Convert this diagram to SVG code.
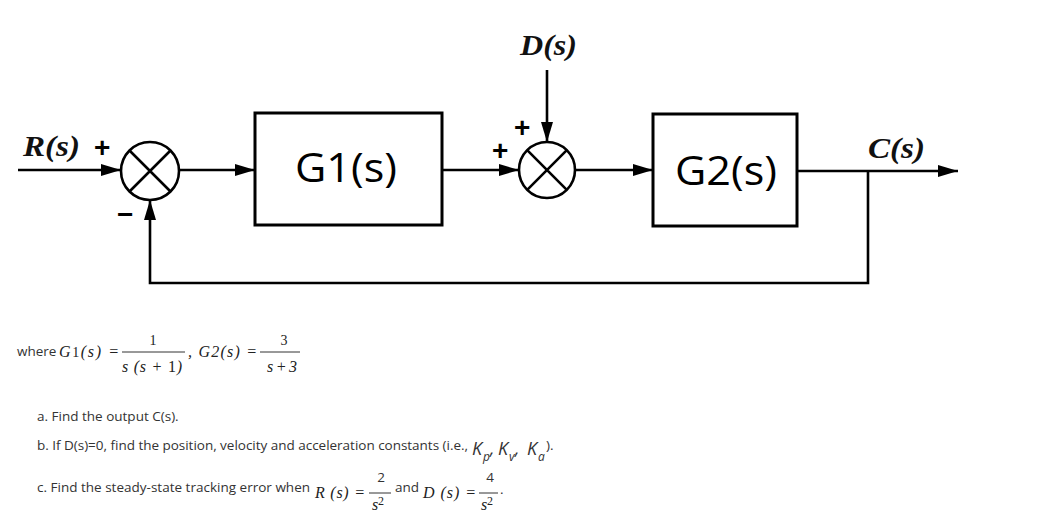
<svg xmlns="http://www.w3.org/2000/svg" width="1060" height="522" viewBox="0 0 1060 522">
<defs>
<style>
.ln{fill:none;stroke:#000;stroke-width:2.6}
.bx{fill:#fff;stroke:#000;stroke-width:3}
.sj{fill:#fff;stroke:#000;stroke-width:2.6}
.blk{font-family:"Open Sans","DejaVu Sans",sans-serif;font-size:40px;fill:#000}
.sig{font-family:"Liberation Serif","DejaVu Serif",serif;font-style:italic;font-weight:bold;font-size:30px;fill:#111}
.sgn{font-family:"Liberation Sans","DejaVu Sans",sans-serif;font-weight:bold;font-size:28px;fill:#000}
.tx{font-family:"Open Sans","DejaVu Sans",sans-serif;font-size:13.5px;fill:#333}
.m{font-family:"Liberation Serif","DejaVu Serif",serif;font-style:italic;font-size:16px;fill:#222}
.mn{font-family:"Liberation Serif","DejaVu Serif",serif;font-size:14px;fill:#222}
.k{font-family:"Open Sans","DejaVu Sans",sans-serif;font-style:italic;font-size:18px;fill:#333}
.ks{font-family:"Open Sans","DejaVu Sans",sans-serif;font-style:italic;font-size:12px;fill:#333}
</style>
<marker id="ah" viewBox="0 0 20 12" refX="20" refY="6" markerWidth="20" markerHeight="12" markerUnits="userSpaceOnUse" orient="auto">
<path d="M0,0 L20,6 L0,12 Z" fill="#000"/>
</marker>
</defs>

<g id="connectors">
<path class="ln" d="M18,170 L121,170" marker-end="url(#ah)"/>
<path class="ln" d="M179,170 L255,170" marker-end="url(#ah)"/>
<path class="ln" d="M442,170 L519,170" marker-end="url(#ah)"/>
<path class="ln" d="M547,70 L547,142" marker-end="url(#ah)"/>
<path class="ln" d="M576,170 L653,170" marker-end="url(#ah)"/>
<path class="ln" d="M797,171 L958,171" marker-end="url(#ah)"/>
<path class="ln" d="M868,171 L868,283 L150,283 L150,200" marker-end="url(#ah)"/>
</g>

<g id="sum1">
<circle class="sj" cx="150" cy="171" r="29"/>
<path class="ln" d="M129.5,150.5 L170.5,191.5 M170.5,150.5 L129.5,191.5"/>
<text class="sgn" x="94" y="157">+</text>
<text class="sgn" x="117" y="224">−</text>
</g>

<g id="G1">
<rect class="bx" x="255" y="113" width="187" height="112"/>
<text class="blk" x="346" y="182" text-anchor="middle" textLength="102" lengthAdjust="spacingAndGlyphs">G1(s)</text>
</g>

<g id="sum2">
<circle class="sj" cx="547" cy="170" r="28"/>
<path class="ln" d="M527.2,150.2 L566.8,189.8 M566.8,150.2 L527.2,189.8"/>
<text class="sgn" x="514" y="137">+</text>
<text class="sgn" x="492" y="160">+</text>
</g>

<g id="G2">
<rect class="bx" x="653" y="114" width="144" height="112"/>
<text class="blk" x="726" y="185" text-anchor="middle" textLength="102" lengthAdjust="spacingAndGlyphs">G2(s)</text>
</g>

<g id="labels">
<text class="sig" x="23" y="156" textLength="57" lengthAdjust="spacingAndGlyphs">R(s)</text>
<text class="sig" x="520" y="55" textLength="57" lengthAdjust="spacingAndGlyphs">D(s)</text>
<text class="sig" x="868" y="158" textLength="57" lengthAdjust="spacingAndGlyphs">C(s)</text>
</g>

<g id="text">
<text class="tx" x="17" y="356">where</text>
<text class="m" x="59" y="357" textLength="60" lengthAdjust="spacing">G<tspan class="mn" font-style="normal">1</tspan>(s) =</text>
<line x1="122" y1="352" x2="185" y2="352" stroke="#333" stroke-width="1"/>
<text class="mn" x="153" y="345" text-anchor="middle">1</text>
<text class="m" x="122" y="372" textLength="60" lengthAdjust="spacing">s (s + <tspan font-style="normal">1</tspan>)</text>
<text class="m" x="188" y="357" textLength="69" lengthAdjust="spacing">, G2(s) =</text>
<line x1="260" y1="352" x2="300" y2="352" stroke="#333" stroke-width="1"/>
<text class="mn" x="284" y="345" text-anchor="middle">3</text>
<text class="m" x="267" y="372" textLength="30" lengthAdjust="spacing">s + 3</text>

<text class="tx" x="37" y="421">a. Find the output C(s).</text>
<text class="tx" x="37" y="450" textLength="431" lengthAdjust="spacing">b. If D(s)=0, find the position, velocity and acceleration constants (i.e.,</text>
<text class="k" x="472" y="455">K</text><text class="ks" x="483" y="461">p</text><text class="k" x="490" y="455">,</text>
<text class="k" x="498" y="455">K</text><text class="ks" x="509" y="461">v</text><text class="k" x="515" y="455">,</text>
<text class="k" x="527" y="455">K</text><text class="ks" x="538" y="461">a</text>
<text class="tx" x="546" y="450">).</text>

<text class="tx" x="37" y="492" textLength="273" lengthAdjust="spacing">c. Find the steady-state tracking error when</text>
<text class="m" x="315" y="498" font-size="17" textLength="50" lengthAdjust="spacing">R (s) =</text>
<line x1="369" y1="493" x2="391" y2="493" stroke="#333" stroke-width="1"/>
<text class="tx" x="381" y="482" text-anchor="middle">2</text>
<text class="m" x="378" y="510" text-anchor="middle">s<tspan font-size="12" font-style="normal" dy="-5">2</tspan></text>
<text class="tx" x="395" y="492">and</text>
<text class="m" x="423" y="498" font-size="17" textLength="53" lengthAdjust="spacing">D (s) =</text>
<line x1="479" y1="493" x2="498" y2="493" stroke="#333" stroke-width="1"/>
<text class="tx" x="490" y="482" text-anchor="middle">4</text>
<text class="m" x="487" y="510" text-anchor="middle">s<tspan font-size="12" font-style="normal" dy="-5">2</tspan></text>
<text class="tx" x="500" y="494">.</text>
</g>
</svg>
